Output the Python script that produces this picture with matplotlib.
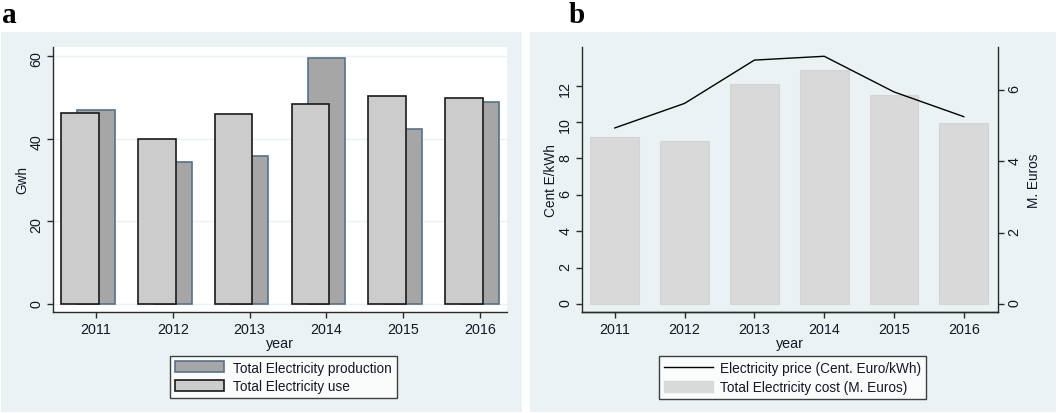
import matplotlib.pyplot as plt
from matplotlib.patches import Rectangle, Patch
from matplotlib.lines import Line2D

years = [2011, 2012, 2013, 2014, 2015, 2016]
production_gwh = [47.0, 34.3, 35.9, 59.6, 42.4, 48.8]
use_gwh = [46.3, 40.0, 46.1, 48.3, 50.4, 49.9]
price_cent_kwh = [9.68, 11.03, 13.41, 13.62, 11.66, 10.30]
cost_meuro = [4.67, 4.56, 6.15, 6.55, 5.85, 5.06]

W, H = 1058, 414
BG = "#eaf2f3"
TXT = "#161628"
AXC = "#2b2b2b"

plt.rcParams["font.family"] = ["Liberation Sans", "DejaVu Sans"]
plt.rcParams["text.color"] = TXT
plt.rcParams["axes.labelcolor"] = TXT
plt.rcParams["xtick.color"] = AXC
plt.rcParams["ytick.color"] = AXC
plt.rcParams["xtick.labelcolor"] = TXT
plt.rcParams["ytick.labelcolor"] = TXT


def box(x0, y0, x1, y1):
    # pixel box with top-left origin -> figure fraction rect
    return [x0 / W, 1 - y1 / H, (x1 - x0) / W, (y1 - y0) / H]


def style_axis(ax, right_spine=False):
    for side in ("top", "right"):
        ax.spines[side].set_visible(False)
    if right_spine:
        ax.spines["right"].set_visible(True)
    for sp in ax.spines.values():
        sp.set_color(AXC)
        sp.set_linewidth(1.0)
    ax.tick_params(axis="both", length=4, width=1.0, labelsize=10.3)
    ax.tick_params(axis="x", pad=3)
    ax.tick_params(axis="y", labelrotation=90, pad=3)


fig = plt.figure(figsize=(W / 100, H / 100), dpi=100)

# panel backgrounds
for x0, x1 in ((1, 522), (530, 1056)):
    r = box(x0, 33, x1, 413)
    fig.patches.append(Rectangle((r[0], r[1]), r[2], r[3], transform=fig.transFigure,
                                 facecolor=BG, edgecolor="none", zorder=-10))

fig.text(2 / W, 1 - 23 / H, "a", fontfamily="Liberation Serif", fontweight="bold",
         fontsize=21, va="baseline", color="black")
fig.text(569 / W, 1 - 23 / H, "b", fontfamily="Liberation Serif", fontweight="bold",
         fontsize=21, va="baseline", color="black")

# ---- panel a: production vs use
ax = fig.add_axes(box(53, 48, 507, 313))
ax.set_facecolor("white")
style_axis(ax)
ax.set_axisbelow(True)
ax.grid(axis="y", color=BG, linewidth=1.0)
ax.grid(axis="x", visible=False)

bw = 0.49
ax.bar(years, production_gwh, width=bw, color="#a6a6a6", edgecolor="#56728a",
       linewidth=1.2, zorder=2)
ax.bar([y - 0.21 for y in years], use_gwh, width=bw, color="#cccccc",
       edgecolor="#1a1a1a", linewidth=1.2, zorder=3)

ax.set_xlim(2010.44, 2016.35)
ax.set_ylim(-1.9, 62.2)
ax.set_xticks(years)
ax.set_yticks([0, 20, 40, 60])
ax.set_xlabel("year", fontsize=10.3, labelpad=0)
ax.set_ylabel("Gwh", fontsize=9.8, labelpad=0)

handles_a = [
    Patch(facecolor="#a6a6a6", edgecolor="#56728a", linewidth=1.2,
          label="Total Electricity production"),
    Patch(facecolor="#cccccc", edgecolor="#1a1a1a", linewidth=1.2,
          label="Total Electricity use"),
]
leg = fig.legend(handles=handles_a, loc="center",
                 bbox_to_anchor=(283.5 / W, 1 - 378 / H), fontsize=9.8,
                 frameon=True, fancybox=False, edgecolor="#111111",
                 handlelength=3.6, handleheight=0.85, handletextpad=0.7,
                 labelspacing=0.35, borderpad=0.35, borderaxespad=0)
leg.get_frame().set_linewidth(1.0)

# ---- panel b: price line on left axis, cost bars on right axis
axp = fig.add_axes(box(582, 48, 998, 313))
axc = axp.twinx()
axp.set_zorder(axc.get_zorder() + 1)
axp.patch.set_visible(False)
axc.set_facecolor("white")

style_axis(axp)
style_axis(axc, right_spine=True)
axc.spines["left"].set_visible(False)
axc.set_axisbelow(True)
axc.grid(axis="y", color=BG, linewidth=1.0)

axc.bar(years, cost_meuro, width=0.70, color="#d9d9d9", edgecolor="#d4d4d4",
        linewidth=0.8, zorder=2)
axp.plot(years, price_cent_kwh, color="black", linewidth=1.0)

axp.set_xlim(2010.53, 2016.49)
axp.set_ylim(-0.44, 14.13)
axc.set_ylim(-0.224, 7.2)
axp.set_xticks(years)
axp.set_yticks([0, 2, 4, 6, 8, 10, 12])
axc.set_yticks([0, 2, 4, 6])
axp.set_xlabel("year", fontsize=10.3, labelpad=0)
axp.set_ylabel("Cent E/kWh", fontsize=9.8, labelpad=0)
axc.set_ylabel("M. Euros", fontsize=9.8, labelpad=4)

handles_b = [
    Line2D([], [], color="black", linewidth=1.0,
           label="Electricity price (Cent. Euro/kWh)"),
    Patch(facecolor="#d9d9d9", edgecolor="#d9d9d9",
          label="Total Electricity cost (M. Euros)"),
]
leg_b = fig.legend(handles=handles_b, loc="center",
                   bbox_to_anchor=(792.5 / W, 1 - 378.5 / H), fontsize=9.8,
                   frameon=True, fancybox=False, edgecolor="#111111",
                   handlelength=3.6, handleheight=0.85, handletextpad=0.55,
                   labelspacing=0.35, borderpad=0.35, borderaxespad=0)
leg_b.get_frame().set_linewidth(1.0)

fig.savefig("out.png", dpi=100, facecolor="white")
